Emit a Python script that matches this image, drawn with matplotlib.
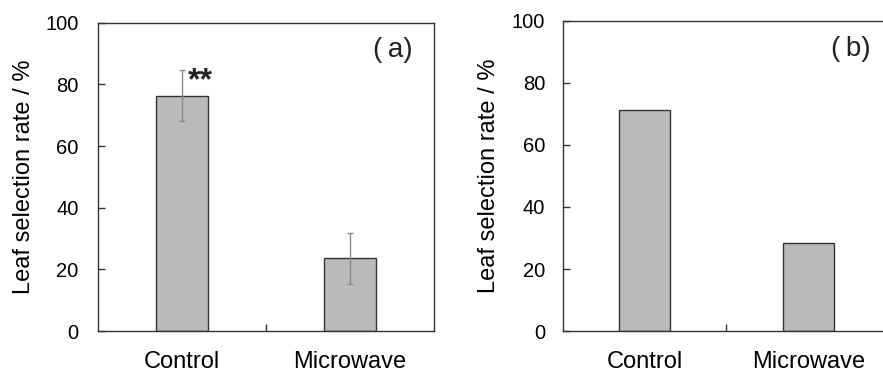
import matplotlib
matplotlib.use("Agg")
import matplotlib.pyplot as plt

plt.rcParams["font.family"] = ["Liberation Sans", "Noto Sans CJK JP", "DejaVu Sans"]

categories = ["Control", "Microwave"]
rate_a = [76.3, 23.6]
err_a = [8.3, 8.2]
rate_b = [71.4, 28.3]
panel_labels = ["(\u2009a)", "(\u2009b)"]
ylabel = "Leaf selection rate / %"

fig = plt.figure(figsize=(8.83, 3.72), dpi=100)
ax_a = fig.add_axes([0.111, 0.110, 0.3805, 0.829])
ax_b = fig.add_axes([0.6373, 0.110, 0.3707, 0.834])

pos = [0.5, 1.5]
bar_kw = dict(width=0.31, color="#bbbbbb", edgecolor="#333333", linewidth=1.0)

ax_a.bar(pos, rate_a, **bar_kw)
ax_a.errorbar(pos, rate_a, yerr=err_a, fmt="none", ecolor="#888888",
              elinewidth=1.0, capsize=2.5, capthick=1.0)
ax_a.annotate("**", xy=(pos[0], rate_a[0] + err_a[0]), xytext=(4.5, 3),
              textcoords="offset points", ha="left", va="top",
              fontsize=23, fontweight="bold", color="#222222")
ax_b.bar(pos, rate_b, **bar_kw)

# (axes, label, y tick pad, panel-label x, ylabel x)
setup = [(ax_a, panel_labels[0], 14, 0.9375, -0.187),
         (ax_b, panel_labels[1], 12.5, 0.942, -0.192)]
for ax, lab, ypad, lx, yx in setup:
    ax.set_xlim(0, 2)
    ax.set_ylim(0, 100)
    ax.set_yticks([0, 20, 40, 60, 80, 100])
    ax.set_xticks([1])
    ax.set_xticklabels([""])
    ax.set_xticks(pos, minor=True)
    ax.set_xticklabels(categories, minor=True, fontsize=17)
    ax.tick_params(axis="x", which="minor", length=0, pad=14)
    ax.tick_params(axis="both", which="major", direction="in", length=5,
                   width=1.0, color="#333333", labelsize=14.5)
    ax.tick_params(axis="y", pad=ypad)
    for s in ax.spines.values():
        s.set_color("#333333")
        s.set_linewidth(1.0)
    ax.set_ylabel(ylabel, fontsize=17)
    ax.yaxis.set_label_coords(yx, 0.5)
    ax.text(lx, 0.91, lab, transform=ax.transAxes, ha="right",
            va="center", fontsize=20, color="#222222")

fig.savefig("out.png", dpi=100)
